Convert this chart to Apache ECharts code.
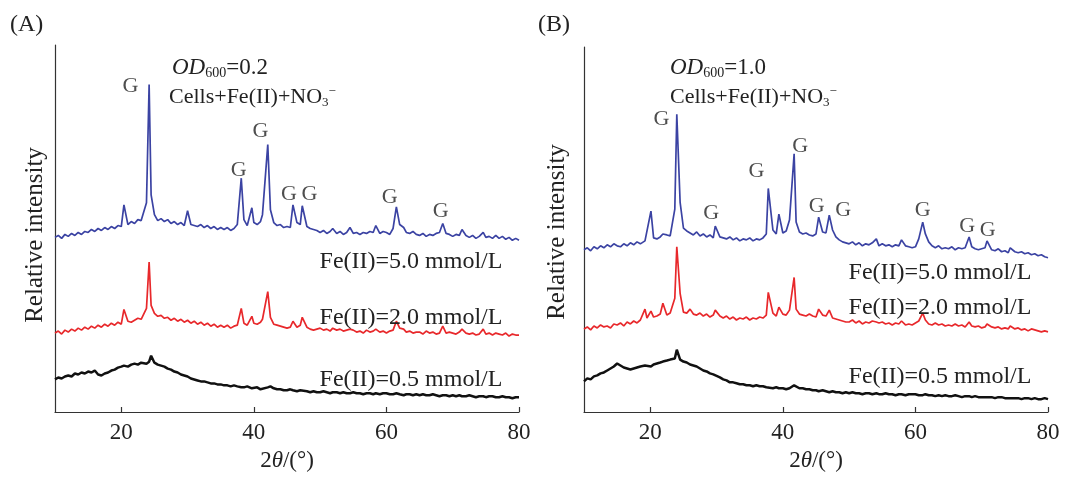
<!DOCTYPE html>
<html>
<head>
<meta charset="utf-8">
<script src="https://cdn.jsdelivr.net/npm/echarts@6/dist/echarts.min.js"></script>
<style>
  html, body { margin: 0; padding: 0; background: #fff; }
  #container { width: 1065px; height: 477px; }
</style>
</head>
<body>
<div id="container"></div>
<script>
// 2theta grid of panel A (deg)
var thetaA = [10, 10.5, 11, 11.5, 12, 12.5, 13, 13.5, 14, 14.5,
  15, 15.5, 16, 16.5, 17, 17.5, 18, 18.5, 19, 19.5,
  20, 20.4, 21, 21.5, 22, 22.5, 23, 23.8, 24.2, 24.5,
  25, 25.5, 26, 26.5, 27, 27.5, 28, 28.5, 29, 29.5,
  30, 30.5, 31, 31.5, 32, 32.5, 33, 33.5, 34, 34.5,
  35, 35.5, 36, 36.5, 37, 37.5, 38.1, 38.5, 39, 39.7,
  40, 40.5, 41, 41.3, 42.1, 42.5, 43, 43.5, 44, 44.5,
  45, 45.5, 45.9, 46.5, 47, 47.3, 48, 48.5, 49, 49.5,
  50, 50.5, 51, 51.5, 51.9, 52.5, 53, 53.5, 54, 54.5,
  55, 55.5, 56, 56.5, 57, 57.5, 58, 58.4, 59, 59.5,
  60, 60.5, 61, 61.5, 62, 62.6, 63, 63.5, 64, 64.5,
  65, 65.5, 66, 66.5, 67, 67.5, 68, 68.5, 69, 69.5,
  70, 70.5, 71, 71.4, 72, 72.5, 73, 73.5, 74, 74.6,
  75, 75.5, 76, 76.5, 77, 77.5, 78, 78.5, 79, 79.5,
  80];
// OD600 = 0.2, Fe(II) = 5.0 mmol/L
var blueA = [177, 179, 176, 180, 178, 181, 179, 182, 180, 183,
  182, 185, 183, 186, 184, 187, 185, 188, 186, 189,
  188, 210, 190, 193, 191, 195, 194, 212, 332, 220,
  200, 194, 196, 193, 195, 191, 193, 190, 192, 189,
  204, 190, 189, 188, 190, 187, 189, 186, 188, 185,
  187, 185, 187, 184, 186, 190, 237, 195, 189, 207,
  192, 190, 193, 200, 271, 205, 192, 189, 190, 187,
  188, 187, 210, 192, 190, 209, 188, 186, 185, 184,
  182, 184, 181, 183, 186, 181, 183, 180, 182, 187,
  181, 182, 180, 182, 181, 183, 182, 189, 181, 183,
  182, 180, 186, 208, 190, 187, 182, 181, 183, 180,
  179, 181, 178, 180, 179, 181, 182, 191, 181, 180,
  178, 180, 179, 185, 179, 177, 179, 176, 178, 182,
  177, 178, 176, 179, 176, 178, 175, 177, 174, 176,
  174];
// Fe(II) = 2.0 mmol/L
var redA = [80, 82, 79, 83, 81, 84, 82, 85, 83, 86,
  84, 87, 85, 88, 86, 89, 87, 90, 88, 91,
  89, 104, 92, 91, 93, 95, 94, 105, 152, 108,
  100, 97, 98, 95, 96, 93, 95, 92, 94, 91,
  93, 90, 92, 89, 91, 88, 90, 87, 89, 86,
  88, 86, 88, 85, 87, 88, 105, 90, 88, 97,
  90, 89, 91, 94, 122, 96, 89, 88, 87, 86,
  85, 86, 92, 86, 88, 96, 86, 84, 83, 84,
  85, 83, 84, 82, 85, 83, 84, 82, 83, 84,
  83, 81, 82, 80, 83, 81, 82, 84, 81, 82,
  80, 82, 83, 92, 85, 84, 81, 82, 80, 81,
  81, 79, 82, 80, 81, 79, 80, 87, 80, 81,
  80, 79, 81, 84, 80, 79, 80, 78, 79, 84,
  79, 80, 78, 80, 79, 78, 80, 77, 79, 78,
  78];
// Fe(II) = 0.5 mmol/L
var blackA = [33, 35, 34, 36, 37, 36, 39, 38, 40, 39,
  41, 40, 42, 38, 37, 39, 40, 42, 43, 45,
  46, 47, 46, 48, 49, 48, 50, 49, 51, 57,
  50, 48, 47, 46, 44, 43, 41, 40, 38, 37,
  36, 34, 33, 32, 31, 31, 30, 29, 29, 28,
  28, 27, 27, 26, 27, 26, 25, 25, 26, 24,
  24, 25, 23, 24, 25, 26, 24, 23, 23, 22,
  22, 23, 22, 21, 22, 21, 21, 20, 21, 20,
  20, 21, 20, 19, 20, 20, 19, 20, 19, 19,
  20, 19, 19, 18, 19, 19, 18, 19, 18, 19,
  19, 18, 18, 19, 18, 17, 18, 18, 17, 18,
  17, 18, 17, 17, 18, 17, 16, 17, 17, 16,
  17, 16, 17, 16, 16, 17, 16, 15, 16, 16,
  15, 16, 16, 15, 15, 16, 15, 15, 14, 15,
  15];

// 2theta grid of panel B (deg)
var thetaB = [10, 10.5, 11, 11.5, 12, 12.5, 13, 13.5, 14, 14.5,
  15, 15.5, 16, 16.5, 17, 17.5, 18, 18.5, 19.2, 19.5,
  20.1, 20.5, 21, 21.5, 21.9, 22.5, 23, 23.7, 24, 24.5,
  25, 25.5, 26, 26.5, 27, 27.5, 28, 28.5, 29, 29.5,
  29.8, 30.5, 31, 31.5, 32, 32.5, 33, 33.5, 34, 34.5,
  35, 35.5, 36, 36.5, 37, 37.5, 37.8, 38.5, 39, 39.4,
  40, 40.5, 41, 41.7, 42, 42.5, 43, 43.5, 44, 44.5,
  45, 45.4, 46, 46.5, 47, 47.5, 48, 48.5, 49, 49.5,
  50, 50.5, 51, 51.5, 52, 52.5, 53, 53.5, 54.1, 54.5,
  55, 55.5, 56, 56.5, 57, 57.5, 57.9, 58.5, 59, 59.5,
  60, 60.5, 61.1, 61.5, 62, 62.5, 63, 63.5, 64, 64.5,
  65, 65.5, 66, 66.5, 67, 67.5, 68.1, 68.5, 69, 69.5,
  70, 70.5, 70.8, 71.5, 72, 72.5, 73, 73.5, 74, 74.3,
  75, 75.5, 76, 76.5, 77, 77.5, 78, 78.5, 79, 79.5,
  80];
// OD600 = 1.0, Fe(II) = 5.0 mmol/L
var blueB = [164, 166, 163, 167, 165, 168, 166, 169, 167, 170,
  168, 167, 170, 168, 171, 169, 172, 170, 173, 172,
  203, 176, 175, 177, 180, 179, 178, 205, 301, 212,
  186, 183, 181, 179, 182, 178, 180, 177, 179, 176,
  188, 177, 176, 175, 177, 174, 176, 173, 175, 174,
  176, 173, 175, 174, 176, 180, 226, 184, 180, 200,
  181, 183, 194, 261, 192, 182, 180, 181, 179, 178,
  180, 197, 182, 181, 199, 184, 177, 174, 172, 171,
  170, 172, 169, 171, 168, 170, 169, 171, 175, 168,
  170, 168, 169, 167, 169, 168, 174, 168, 167, 166,
  167, 175, 192, 180, 172, 168, 166, 168, 165, 166,
  165, 167, 164, 166, 165, 166, 177, 167, 165, 164,
  165, 166, 173, 164, 163, 165, 162, 163, 161, 166,
  162, 161, 162, 160, 161, 159, 160, 158, 159, 157,
  156];
// Fe(II) = 2.0 mmol/L
var redB = [84, 86, 83, 87, 85, 88, 86, 87, 85, 89,
  88, 90, 87, 91, 89, 92, 90, 93, 104, 95,
  102, 96, 97, 99, 110, 98, 100, 115, 167, 120,
  101, 100, 104, 99, 98, 100, 97, 99, 96, 98,
  103, 97, 95, 97, 94, 96, 93, 95, 94, 96,
  93, 95, 94, 96, 95, 98, 121, 100, 97, 106,
  99, 98, 103, 136, 104, 99, 98, 97, 99, 97,
  96, 104, 98, 97, 103, 95, 94, 93, 92, 91,
  91, 93, 90, 92, 89, 91, 90, 92, 91, 90,
  91, 89, 90, 88, 90, 89, 92, 88, 89, 88,
  90, 92, 100, 93, 89, 88, 90, 88, 89, 87,
  88, 87, 89, 87, 88, 86, 91, 87, 86, 87,
  85, 86, 89, 86, 85, 86, 84, 85, 84, 87,
  84, 85, 83, 84, 82, 84, 83, 82, 81, 82,
  81];
// Fe(II) = 0.5 mmol/L
var blackB = [31, 34, 33, 36, 37, 39, 40, 42, 44, 46,
  49, 47, 45, 44, 43, 44, 45, 46, 47, 48,
  46, 48, 49, 50, 51, 52, 53, 54, 63, 53,
  51, 50, 48, 47, 46, 44, 42, 41, 39, 38,
  36, 35, 33, 32, 30, 30, 29, 28, 28, 27,
  27, 26, 27, 26, 26, 25, 25, 24, 25, 24,
  24, 23, 24, 27, 25, 24, 24, 23, 23, 22,
  22, 21, 22, 21, 20, 21, 20, 20, 19, 20,
  19, 20, 19, 19, 18, 19, 19, 18, 19, 18,
  18, 19, 18, 18, 17, 18, 18, 17, 18, 18,
  18, 17, 17, 18, 17, 17, 16, 17, 16, 17,
  16, 16, 17, 16, 15, 16, 16, 15, 16, 15,
  15, 15, 16, 15, 14, 15, 15, 14, 14, 15,
  14, 14, 13, 14, 14, 13, 14, 13, 13, 14,
  13];

// "G" peak marks [2theta, intensity]
var gMarksA = [[21.4, 330], [41.0, 285], [37.7, 245], [45.3, 221], [48.4, 221], [60.5, 218], [68.2, 204]];
var gMarksB = [[21.7, 296], [29.2, 201], [36.0, 243], [42.6, 269], [45.1, 208], [49.1, 204], [61.1, 204], [67.8, 188], [70.9, 184]];

var xTicks = [20, 40, 60, 80];
var feLabels = ["Fe(II)=5.0 mmol/L", "Fe(II)=2.0 mmol/L", "Fe(II)=0.5 mmol/L"];

var FONT = "'Liberation Serif', 'DejaVu Serif', serif";
var TXT = "#222";

function pairs(xs, ys) {
  return xs.map(function(x, i) { return [x, ys[i]]; });
}

function xAxisFor(idx) {
  return {
    type: "value",
    gridIndex: idx,
    min: 10,
    max: 80,
    name: "2{i|θ}/(°)",
    nameLocation: "middle",
    nameGap: 37,
    nameTextStyle: {
      fontFamily: FONT, fontSize: 23, color: TXT,
      rich: { i: { fontFamily: FONT, fontSize: 23, fontStyle: "italic", color: TXT } }
    },
    axisLine: { lineStyle: { color: "#333", width: 1.2 } },
    axisTick: { inside: true, length: 5, customValues: xTicks, lineStyle: { color: "#333", width: 1.2 } },
    axisLabel: { customValues: xTicks, margin: 9, fontFamily: FONT, fontSize: 23, color: TXT, showMaxLabel: true },
    splitLine: { show: false }
  };
}

function yAxisFor(idx, max) {
  return {
    type: "value",
    gridIndex: idx,
    min: 0,
    max: max,
    axisLine: { show: true, lineStyle: { color: "#333", width: 1.2 } },
    axisTick: { show: false },
    axisLabel: { show: false },
    splitLine: { show: false }
  };
}

function trace(name, idx, xs, ys, color, width) {
  return {
    name: name,
    type: "line",
    xAxisIndex: idx,
    yAxisIndex: idx,
    data: pairs(xs, ys),
    showSymbol: false,
    symbol: "none",
    lineStyle: { color: color, width: width },
    silent: true
  };
}

function gSeries(idx, marks) {
  return {
    type: "scatter",
    xAxisIndex: idx,
    yAxisIndex: idx,
    data: marks,
    symbolSize: 1,
    itemStyle: { color: "rgba(0,0,0,0)" },
    label: { show: true, position: "inside", formatter: "G", fontFamily: FONT, fontSize: 22, color: TXT },
    silent: true,
    z: 5
  };
}

function text(x, y, str, align, size, extra) {
  var style = {
    x: x, y: y, text: str,
    fontFamily: FONT, fontSize: size, fill: TXT,
    align: align, textAlign: align,
    verticalAlign: "middle", textVerticalAlign: "middle"
  };
  if (extra) style.rich = extra;
  return { type: "text", style: style, z: 10 };
}

function yName(x, y) {
  var t = text(0, 0, "Relative intensity", "center", 25);
  t.x = x;
  t.y = y;
  t.rotation = Math.PI / 2;
  return t;
}

var richOD = {
  i: { fontFamily: FONT, fontSize: 23, fontStyle: "italic", fill: TXT, color: TXT, lineHeight: 25 },
  n: { fontFamily: FONT, fontSize: 23, fill: TXT, color: TXT, lineHeight: 25 },
  sub: { fontFamily: FONT, fontSize: 14, fill: TXT, color: TXT, lineHeight: 14, verticalAlign: "bottom" }
};
var richCells = {
  n: { fontFamily: FONT, fontSize: 22, fill: TXT, color: TXT, lineHeight: 24 },
  sub: { fontFamily: FONT, fontSize: 13, fill: TXT, color: TXT, lineHeight: 13, verticalAlign: "bottom" },
  sup: { fontFamily: FONT, fontSize: 13, fill: TXT, color: TXT, lineHeight: 13, verticalAlign: "top" }
};

var chartDom = document.getElementById("container");
var myChart = echarts.init(chartDom, null, { renderer: "canvas" });
var option;

option = {
  animation: false,
  backgroundColor: "#fff",
  grid: [
    { left: 55, right: 546, top: 45, bottom: 60 },
    { left: 584, right: 17, top: 47, bottom: 61 }
  ],
  xAxis: [xAxisFor(0), xAxisFor(1)],
  yAxis: [yAxisFor(0, 372), yAxisFor(1, 369)],
  series: [
    trace("A 5.0", 0, thetaA, blueA, "#3b43a3", 1.7),
    trace("A 2.0", 0, thetaA, redA, "#e8282b", 1.7),
    trace("A 0.5", 0, thetaA, blackA, "#111", 2.5),
    trace("B 5.0", 1, thetaB, blueB, "#3b43a3", 1.7),
    trace("B 2.0", 1, thetaB, redB, "#e8282b", 1.7),
    trace("B 0.5", 1, thetaB, blackB, "#111", 2.5),
    gSeries(0, gMarksA),
    gSeries(1, gMarksB)
  ],
  graphic: [
    text(10, 25, "(A)", "left", 24),
    text(538, 25, "(B)", "left", 24),
    yName(35, 235),
    yName(557, 232),
    text(172, 68, "{i|OD}{sub|600}{n|=0.2}", "left", 23, richOD),
    text(169, 97, "{n|Cells+Fe(II)+NO}{sub|3}{sup|−}", "left", 22, richCells),
    text(670, 68, "{i|OD}{sub|600}{n|=1.0}", "left", 23, richOD),
    text(670, 97, "{n|Cells+Fe(II)+NO}{sub|3}{sup|−}", "left", 22, richCells),
    text(411, 262, feLabels[0], "center", 24),
    text(411, 318, feLabels[1], "center", 24),
    text(411, 380, feLabels[2], "center", 24),
    text(940, 273, feLabels[0], "center", 24),
    text(940, 308, feLabels[1], "center", 24),
    text(940, 377, feLabels[2], "center", 24)
  ]
};

option && myChart.setOption(option);
</script>
</body>
</html>
